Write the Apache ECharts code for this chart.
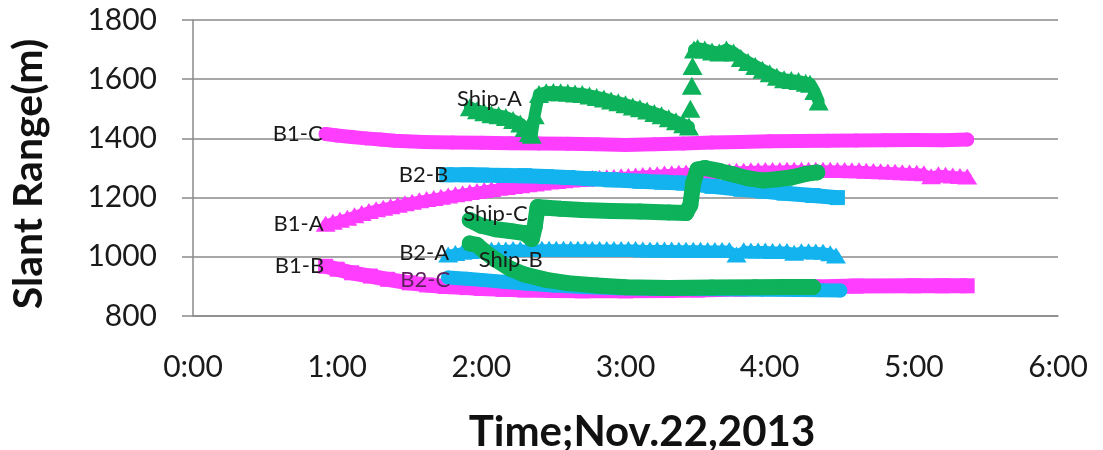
<!DOCTYPE html>
<html>
<head>
<meta charset="utf-8">
<script src="https://cdn.jsdelivr.net/npm/echarts@6/dist/echarts.min.js"></script>
<style>
  html, body { margin: 0; padding: 0; background: #ffffff; }
  #chart { width: 1103px; height: 450px; }
</style>
</head>
<body>
<div id="chart"></div>
<script>
// Slant range (m) of each receiver against time of day (hours), Nov. 22, 2013
const xTicks = ['0:00', '1:00', '2:00', '3:00', '4:00', '5:00', '6:00'];
const yTicks = [800, 1000, 1200, 1400, 1600, 1800];

const seriesNames = ['B1-A', 'B1-B', 'B1-C', 'B2-A', 'B2-B', 'B2-C', 'Ship-A', 'Ship-B', 'Ship-C'];

const b1A = [
  [0.92,1112],[0.97,1118],[1.02,1125],[1.07,1132],[1.12,1140],[1.17,1148],[1.22,1155],[1.27,1161],
  [1.32,1166],[1.37,1171],[1.42,1176],[1.47,1181],[1.52,1186],[1.57,1191],[1.62,1195],[1.67,1199],
  [1.72,1203],[1.77,1207],[1.82,1211],[1.87,1215],[1.92,1219],[1.97,1222],[2.02,1226],[2.07,1229],
  [2.12,1233],[2.17,1236],[2.22,1239],[2.27,1242],[2.32,1245],[2.37,1248],[2.42,1251],[2.47,1254],
  [2.52,1256],[2.57,1259],[2.62,1261],[2.67,1263],[2.72,1264],[2.77,1266],[2.82,1267],[2.87,1269],
  [2.92,1270],[2.97,1272],[3.02,1273],[3.07,1275],[3.12,1276],[3.17,1278],[3.22,1279],[3.27,1281],
  [3.32,1282],[3.37,1284],[3.42,1285],[3.47,1286],[3.52,1287],[3.57,1288],[3.62,1289],[3.67,1290],
  [3.72,1290],[3.77,1291],[3.82,1291],[3.87,1292],[3.92,1292],[3.97,1293],[4.02,1293],[4.07,1293],
  [4.12,1294],[4.17,1294],[4.22,1294],[4.27,1294],[4.32,1294],[4.37,1294],[4.42,1294],[4.47,1293],
  [4.52,1293],[4.57,1292],[4.62,1292],[4.67,1291],[4.72,1290],[4.77,1289],[4.82,1288],[4.87,1287],
  [4.92,1286],[4.97,1285],[5.02,1284],[5.07,1282],[5.12,1272],[5.17,1279],[5.22,1277],[5.27,1275],
  [5.32,1273],[5.37,1271]
];
const b1B = [
  [0.92,968],[1.0,958],[1.1,946],[1.23,935],[1.35,924],[1.5,912],[1.62,905],[1.75,900],[1.9,896],
  [2.0,893],[2.15,890],[2.3,888],[2.5,886],[2.7,885],[3.0,885],[3.3,886],[3.5,888],[3.8,891],
  [4.0,893],[4.3,898],[4.6,901],[5.0,902],[5.2,902],[5.37,902]
];
const b1C = [
  [0.92,1415],[1.0,1410],[1.1,1405],[1.2,1400],[1.3,1396],[1.4,1392],[1.6,1388],[1.8,1386],[2.0,1385],
  [2.2,1384],[2.4,1383],[2.6,1382],[2.8,1380],[3.0,1378],[3.2,1380],[3.4,1383],[3.6,1386],[3.8,1388],
  [4.0,1390],[4.2,1391],[4.4,1392],[4.6,1393],[4.8,1394],[5.0,1395],[5.2,1394],[5.37,1396]
];
const b2A = [
  [1.77,1008],[1.82,1013],[1.87,1017],[1.92,1020],[1.97,1022],[2.02,1023],[2.07,1024],[2.12,1025],
  [2.17,1025],[2.22,1026],[2.27,1026],[2.32,1026],[2.37,1026],[2.42,1027],[2.47,1027],[2.52,1027],
  [2.57,1027],[2.62,1027],[2.67,1027],[2.72,1027],[2.77,1026],[2.82,1026],[2.87,1026],[2.92,1026],
  [2.97,1026],[3.02,1026],[3.07,1026],[3.12,1025],[3.17,1025],[3.22,1025],[3.27,1025],[3.32,1025],
  [3.37,1024],[3.42,1024],[3.47,1024],[3.52,1024],[3.57,1023],[3.62,1023],[3.67,1023],[3.72,1023],
  [3.77,1008],[3.82,1022],[3.87,1021],[3.92,1021],[3.97,1021],[4.02,1020],[4.07,1020],[4.12,1020],
  [4.17,1014],[4.22,1019],[4.27,1019],[4.32,1018],[4.37,1017],[4.42,1012],[4.46,1004]
];
const b2B = [
  [1.76,1277],[1.9,1277],[2.0,1276],[2.15,1275],[2.3,1274],[2.45,1271],[2.6,1268],[2.75,1264],
  [2.9,1260],[3.1,1255],[3.25,1252],[3.4,1249],[3.6,1238],[3.8,1228],[3.95,1222],[4.1,1215],
  [4.3,1207],[4.47,1200]
];
const b2C = [
  [1.77,930],[1.9,926],[2.0,922],[2.15,916],[2.3,910],[2.5,903],[2.7,898],[2.95,894],[3.2,892],
  [3.45,891],[3.7,890],[3.95,889],[4.2,888],[4.35,887],[4.49,886]
];
const shipA = [
  [1.92,1505],[1.97,1495],[2.02,1488],[2.07,1482],[2.12,1478],[2.17,1472],[2.22,1462],[2.27,1450],
  [2.30,1435],[2.33,1418],[2.35,1412],[2.37,1478],[2.40,1550],[2.45,1556],[2.50,1557],[2.55,1556],
  [2.60,1554],[2.65,1552],[2.70,1550],[2.75,1545],[2.80,1540],[2.85,1535],[2.90,1528],[2.95,1522],
  [3.00,1515],[3.05,1508],[3.10,1502],[3.15,1494],[3.20,1486],[3.25,1478],[3.30,1468],[3.35,1458],
  [3.40,1448],[3.44,1440],[3.445,'-'],[3.45,1500],[3.453,'-'],[3.46,1578],[3.462,'-'],[3.465,1645],
  [3.468,'-'],[3.475,1700],[3.50,1705],[3.55,1700],[3.60,1694],[3.65,1690],[3.70,1700],[3.75,1690],
  [3.80,1672],[3.85,1658],[3.90,1645],[3.95,1632],[4.00,1620],[4.05,1608],[4.10,1600],[4.15,1597],
  [4.20,1594],[4.25,1588],[4.28,1585],[4.31,1560],[4.34,1525]
];
const shipB = [
  [1.92,1045],[1.97,1040],[2.03,1015],[2.1,990],[2.2,960],[2.3,940],[2.45,922],[2.6,911],[2.8,903],
  [3.0,897],[3.3,895],[3.6,896],[3.9,897],[4.1,898],[4.3,898]
];
const shipC = [
  [1.92,1124],[2.0,1105],[2.1,1093],[2.2,1087],[2.3,1080],[2.35,1060],[2.37,1100],[2.39,1168],
  [2.45,1166],[2.55,1162],[2.7,1158],[2.9,1155],[3.1,1153],[3.3,1150],[3.42,1148],[3.45,1175],
  [3.47,1250],[3.5,1295],[3.55,1300],[3.65,1290],[3.75,1278],[3.85,1265],[3.95,1258],[4.05,1262],
  [4.15,1268],[4.25,1280],[4.33,1285]
];

const MAGENTA = '#ff3dff';
const CYAN = '#12b3ee';
const GREEN = '#0db25a';
const FONT = 'Lato, "Open Sans", sans-serif';

// Marker style per kind: triangles show a sawtooth edge, circles and squares form solid bands
function styleFor(kind, color, width) {
  if (kind === 'triangle') {
    return { symbol: 'triangle', symbolSize: [20, 16], lineStyle: { width: width || 9, color, cap: 'round', join: 'round' } };
  }
  if (kind === 'rect') {
    return { symbol: 'rect', symbolSize: 15, lineStyle: { width: width || 15, color, cap: 'butt', join: 'round' } };
  }
  const w = width || 14;
  return { symbol: 'circle', symbolSize: w, lineStyle: { width: w, color, cap: 'round', join: 'round' } };
}

function makeSeries(name, points, kind, color, label, order, width) {
  const data = points.map((p, i) => {
    if (i !== 0) return p;
    return {
      value: p,
      label: Object.assign({
        show: true,
        formatter: name,
        color: '#1a1a1a',
        fontFamily: FONT,
        fontSize: 22
      }, label)
    };
  });
  return Object.assign({
    name,
    type: 'line',
    data,
    showSymbol: true,
    showAllSymbol: true,
    connectNulls: false,
    itemStyle: { color },
    emphasis: { disabled: true },
    z: 2 + order
  }, styleFor(kind, color, width));
}

const series = [
  makeSeries(seriesNames[2], b1C, 'circle', MAGENTA, { position: 'left', distance: 0, offset: [4, 0] }, 0),
  makeSeries(seriesNames[0], b1A, 'triangle', MAGENTA, { position: 'left', distance: 0, offset: [8, 0] }, 1),
  makeSeries(seriesNames[1], b1B, 'rect', MAGENTA, { position: 'left', distance: 0, offset: [6, 0] }, 2),
  makeSeries(seriesNames[4], b2B, 'rect', CYAN, { position: 'left', distance: 0, offset: [9, 0] }, 3),
  makeSeries(seriesNames[3], b2A, 'triangle', CYAN, { position: 'left', distance: 0, offset: [11, -2] }, 4),
  makeSeries(seriesNames[5], b2C, 'circle', CYAN, { position: 'left', distance: 0, offset: [9, 2], color: '#5e215e' }, 5),
  makeSeries(seriesNames[6], shipA, 'triangle', GREEN, { position: 'left', distance: 0, offset: [62, -8] }, 6, 12),
  makeSeries(seriesNames[8], shipC, 'circle', GREEN, { position: 'left', distance: 0, offset: [66, -6] }, 7, 16),
  makeSeries(seriesNames[7], shipB, 'circle', GREEN, { position: 'right', distance: 0, offset: [1, 16] }, 8, 16)
];
// Ship-A markers are a little larger than the others
series[6].symbolSize = [20, 18];

const chart = echarts.init(document.getElementById('chart'), null, { renderer: 'canvas' });
chart.setOption({
  animation: false,
  backgroundColor: '#ffffff',
  grid: { left: 193, right: 45, top: 20, bottom: 134, containLabel: false },
  xAxis: {
    type: 'value',
    min: 0,
    max: 6,
    interval: 1,
    axisLine: { show: true, lineStyle: { color: '#8a8a8a', width: 1.5 } },
    axisTick: { show: false },
    splitLine: { show: false },
    axisLabel: {
      margin: 36,
      color: '#1a1a1a',
      fontFamily: FONT,
      fontSize: 30,
      formatter: v => xTicks[Math.round(v)]
    }
  },
  yAxis: {
    type: 'value',
    min: yTicks[0],
    max: yTicks[yTicks.length - 1],
    interval: 200,
    axisLine: { show: true, lineStyle: { color: '#8a8a8a', width: 1.5 } },
    axisTick: { show: true, length: 11, lineStyle: { color: '#8a8a8a', width: 1.5 } },
    splitLine: { show: true, lineStyle: { color: '#8a8a8a', width: 1.5 } },
    axisLabel: {
      margin: 36,
      color: '#1a1a1a',
      fontFamily: FONT,
      fontSize: 30,
      formatter: v => String(v)
    }
  },
  graphic: [
    {
      type: 'text',
      x: 642, y: 432,
      style: {
        text: 'Time;Nov.22,2013',
        font: 'bold 42px ' + FONT,
        fill: '#111111',
        align: 'center',
        verticalAlign: 'middle'
      }
    },
    {
      type: 'text',
      x: 29, y: 174,
      rotation: Math.PI / 2,
      style: {
        text: 'Slant Range(m)',
        font: 'bold 41px ' + FONT,
        fill: '#111111',
        align: 'center',
        verticalAlign: 'middle'
      }
    }
  ],
  series
});
</script>
</body>
</html>
